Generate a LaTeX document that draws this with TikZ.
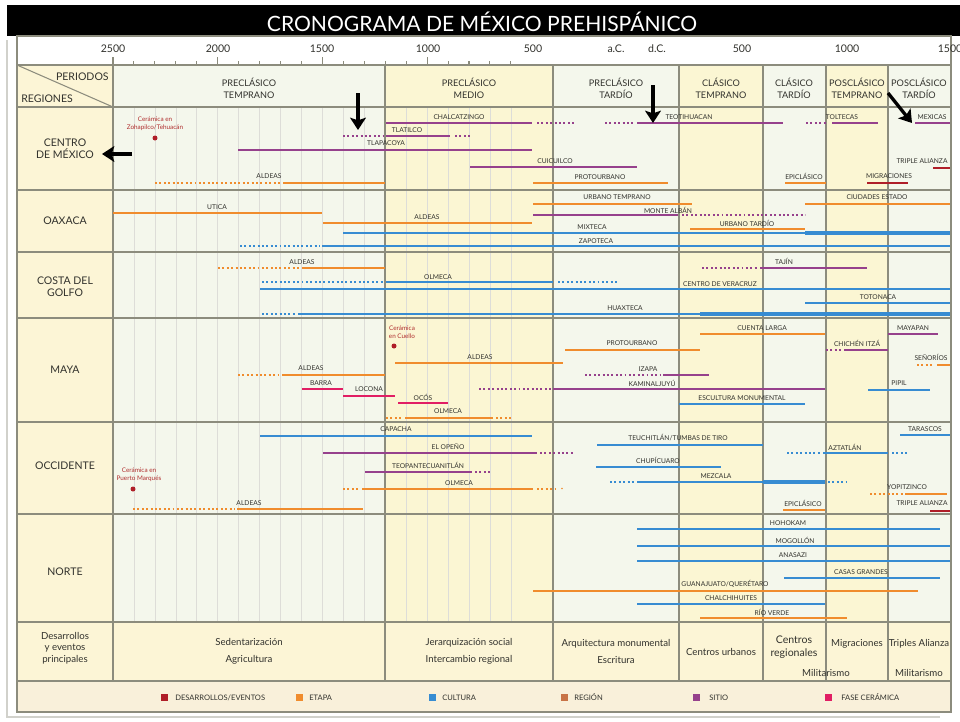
\documentclass[tikz,border=0pt]{standalone}
\usepackage{fontspec}
\setmainfont{Lato}
\usepackage{tikz}
\usetikzlibrary{arrows.meta}
\definecolor{desarrollo}{RGB}{175,30,40}
\definecolor{etapa}{RGB}{240,140,45}
\definecolor{cultura}{RGB}{55,140,210}
\definecolor{region}{RGB}{200,115,70}
\definecolor{sitio}{RGB}{150,65,140}
\definecolor{ceramica}{RGB}{225,30,100}
\definecolor{rojotxt}{RGB}{175,45,45}
\definecolor{fondoA}{RGB}{244,247,236}
\definecolor{fondoB}{RGB}{251,246,211}
\definecolor{fondoC}{RGB}{252,245,214}
\definecolor{fondoD}{RGB}{249,240,218}
\definecolor{tinta}{RGB}{50,50,45}
\definecolor{raya}{RGB}{140,140,125}

\begin{document}
\begin{tikzpicture}[x=0.02cm,y=-0.02cm,>=Stealth,
  titulo/.style={font=\fontsize{12}{14}\selectfont,text=white,inner sep=0pt},
  num/.style={font=\fontsize{6}{7}\selectfont,text=tinta,inner sep=0pt},
  etq/.style={font=\fontsize{3.8}{4.4}\selectfont,text=tinta,inner sep=0pt},
  rojo/.style={font=\fontsize{3.6}{4.6}\selectfont,text=rojotxt,align=center,inner sep=0pt},
  per/.style={font=\fontsize{5.2}{7}\selectfont,text=tinta,align=center,inner sep=0pt},
  reg/.style={font=\fontsize{6}{7}\selectfont,text=tinta,align=center,inner sep=0pt},
  des/.style={font=\fontsize{5.5}{9.5}\selectfont,text=tinta,align=center,inner sep=0pt},
  ley/.style={font=\fontsize{4.3}{5}\selectfont,text=tinta,anchor=west,inner sep=0pt},
  barra/.style={line width=1.1pt},
  punt/.style={line width=1.1pt,dash pattern=on 1.1pt off 1.4pt},
  gruesa/.style={line width=2.2pt},
  rejilla/.style={draw=raya!30,line width=0.3pt},
  linea/.style={draw=raya,line width=0.6pt},
  flecha/.style={line width=1.9pt,-{Stealth[length=7pt,width=9pt,inset=1.5pt]}}]
  \useasboundingbox (0,0) rectangle (960,721);
  \fill[white] (0,0) rectangle (960,721);
  \fill[black] (7,5) rectangle (960,36);
  \node[titulo] (titulo) at (482,22) {CRONOGRAMA DE MÉXICO PREHISPÁNICO};

  \fill[fondoC] (17,65) rectangle (113,681);
  \fill[fondoA] (113,65) rectangle (385,622);
  \fill[fondoB] (385,65) rectangle (553,622);
  \fill[fondoA] (553,65) rectangle (679,622);
  \fill[fondoB] (679,65) rectangle (763,622);
  \fill[fondoA] (763,65) rectangle (826,622);
  \fill[fondoB] (826,65) rectangle (888,622);
  \fill[fondoA] (888,65) rectangle (951,622);
  \fill[fondoC] (113,622) rectangle (951,681);
  \fill[fondoD] (17,681) rectangle (951,712);

  \foreach \k in {1,...,19}
    \draw[rejilla] ({113+20.94*\k},107) -- ({113+20.94*\k},622);
  \foreach \k in {0,...,19}
    \draw[linea] ({113+20.94*\k},61) -- ({113+20.94*\k},65);
  \foreach \k in {0,5,10,15}
    \draw[linea] ({113+20.94*\k},57) -- ({113+20.94*\k},65);
  \foreach \yy in {65,107,190,252,318,422,514,622,681}
    \draw[linea] (17,\yy) -- (951,\yy);
  \foreach \xx in {113,385,553,679,763,826,888}
    \draw[linea] (\xx,65) -- (\xx,681);
  \draw[linea] (17,65) -- (113,107);
  \draw[linea] (17,36) rectangle (951,712);
  \draw[raya!40,line width=1pt] (7,40) -- (7,717) -- (940,717);

  \node[num] (n2500) at (113,49) {2500};
  \node[num] (n2000) at (218,49) {2000};
  \node[num] (n1500) at (322,49) {1500};
  \node[num] (n1000) at (428,49) {1000};
  \node[num] (n500) at (533,49) {500};
  \node[num] (nac) at (616,49) {a.C.};
  \node[num] (ndc) at (657,49) {d.C.};
  \node[num] (m500) at (742,49) {500};
  \node[num] (m1000) at (847,49) {1000};
  \node[num] (m1500) at (950,49) {1500};

  \node[reg,anchor=east] (periodos) at (109,77) {PERIODOS};
  \node[reg,anchor=west] (regiones) at (21,99) {REGIONES};
  \node[per] (pTemp) at (249,88) {PRECLÁSICO\\TEMPRANO};
  \node[per] (pMed) at (469,88) {PRECLÁSICO\\MEDIO};
  \node[per] (pTard) at (616,88) {PRECLÁSICO\\TARDÍO};
  \node[per] (cTemp) at (721,88) {CLÁSICO\\TEMPRANO};
  \node[per] (cTard) at (794,88) {CLÁSICO\\TARDÍO};
  \node[per] (psTemp) at (857,88) {POSCLÁSICO\\TEMPRANO};
  \node[per] (psTard) at (919,88) {POSCLÁSICO\\TARDÍO};

  \node[reg] (centro) at (65,149) {CENTRO\\DE MÉXICO};
  \node[reg] (oaxaca) at (65,221) {OAXACA};
  \node[reg] (golfo) at (65,287) {COSTA DEL\\GOLFO};
  \node[reg] (maya) at (65,370) {MAYA};
  \node[reg] (occidente) at (65,466) {OCCIDENTE};
  \node[reg] (norte) at (65,572) {NORTE};

  \node[rojo] (cerZoh) at (155,123.5) {Cerámica en\\Zohapilco/Tehuacán};
  \fill[desarrollo] (155,138) circle (2.5);
  \draw[barra,sitio] (386,123) -- (532,123);
  \draw[punt,sitio] (537,123) -- (576,123);
  \node[etq] (chalcatzingo) at (459,117) {CHALCATZINGO};
  \draw[punt,sitio] (343,136) -- (384,136);
  \draw[barra,sitio] (386,136) -- (450,136);
  \draw[punt,sitio] (455,136) -- (470,136);
  \node[etq] (tlatilco) at (407,130) {TLATILCO};
  \draw[barra,sitio] (238,150) -- (532,150);
  \node[etq] (tlapacoya) at (386,143) {TLAPACOYA};
  \draw[barra,sitio] (470,167) -- (637,167);
  \node[etq] (cuicuilco) at (555,161) {CUICUILCO};
  \draw[barra,etapa] (533,183) -- (668,183);
  \node[etq] (protourbanoCM) at (600,177) {PROTOURBANO};
  \draw[punt,etapa] (155,183) -- (281,183);
  \draw[barra,etapa] (283,183) -- (385,183);
  \node[etq] (aldeasCM) at (269,176) {ALDEAS};
  \draw[punt,sitio] (605,123) -- (635,123);
  \draw[barra,sitio] (637,123) -- (783,123);
  \node[etq] (teotihuacan) at (689,117) {TEOTIHUACAN};
  \draw[punt,sitio] (806,123) -- (826,123);
  \draw[barra,sitio] (832,123) -- (878,123);
  \node[etq] (toltecas) at (842,117) {TOLTECAS};
  \draw[barra,sitio] (915,123) -- (950,123);
  \node[etq] (mexicas) at (932,117) {MEXICAS};
  \draw[barra,desarrollo] (933,168) -- (950,168);
  \node[etq] (alianzaCM) at (922,161) {TRIPLE ALIANZA};
  \draw[barra,etapa] (785,183) -- (826,183);
  \node[etq] (epiclasicoCM) at (804,176) {EPICLÁSICO};
  \draw[barra,desarrollo] (867,183) -- (908,183);
  \node[etq] (migraciones) at (889,176) {MIGRACIONES};

  \draw[barra,etapa] (113,213) -- (322,213);
  \node[etq] (utica) at (217,207) {UTICA};
  \draw[barra,etapa] (323,223) -- (532,223);
  \node[etq] (aldeasOax) at (427,217) {ALDEAS};
  \draw[barra,etapa] (533,204) -- (692,204);
  \node[etq] (urbTemp) at (617,197) {URBANO TEMPRANO};
  \draw[barra,etapa] (805,204) -- (950,204);
  \node[etq] (ciudades) at (877,197) {CIUDADES ESTADO};
  \draw[barra,sitio] (533,215) -- (678,215);
  \draw[punt,sitio] (682,215) -- (805,215);
  \node[etq] (montealban) at (668,210) {MONTE ALBÁN};
  \draw[barra,etapa] (690,229) -- (805,229);
  \node[etq] (urbTard) at (747,223) {URBANO TARDÍO};
  \draw[barra,cultura] (343,233) -- (805,233);
  \draw[gruesa,cultura] (805,233) -- (950,233);
  \node[etq] (mixteca) at (592,227) {MIXTECA};
  \draw[punt,cultura] (240,246) -- (320,246);
  \draw[barra,cultura] (322,246) -- (950,246);
  \node[etq] (zapoteca) at (596,241) {ZAPOTECA};

  \draw[punt,etapa] (218,268) -- (300,268);
  \draw[barra,etapa] (302,268) -- (385,268);
  \node[etq] (aldeasGolfo) at (302,262) {ALDEAS};
  \draw[punt,cultura] (262,282) -- (383,282);
  \draw[barra,cultura] (386,282) -- (553,282);
  \draw[punt,cultura] (558,282) -- (617,282);
  \node[etq] (olmecaGolfo) at (438,277) {OLMECA};
  \draw[barra,cultura] (260,289) -- (950,289);
  \node[etq] (veracruz) at (720,284) {CENTRO DE VERACRUZ};
  \draw[punt,sitio] (702,268) -- (758,268);
  \draw[barra,sitio] (760,268) -- (867,268);
  \node[etq] (tajin) at (784,261) {TAJÍN};
  \draw[barra,cultura] (805,303) -- (950,303);
  \node[etq] (totonaca) at (878,297) {TOTONACA};
  \draw[punt,cultura] (262,314) -- (296,314);
  \draw[barra,cultura] (298,314) -- (700,314);
  \draw[gruesa,cultura] (700,314) -- (950,314);
  \node[etq] (huaxteca) at (625,308) {HUAXTECA};

  \node[rojo] (cerCuello) at (402,332.5) {Cerámica\\en Cuello};
  \fill[desarrollo] (394,346) circle (2.5);
  \draw[barra,etapa] (395,363) -- (563,363);
  \node[etq] (aldeasMaya) at (480,357) {ALDEAS};
  \draw[barra,etapa] (565,350) -- (700,350);
  \node[etq] (protourbanoMaya) at (632,343) {PROTOURBANO};
  \draw[barra,etapa] (700,334) -- (825,334);
  \node[etq] (cuenta) at (762,328) {CUENTA LARGA};
  \draw[barra,sitio] (888,334) -- (938,334);
  \node[etq] (mayapan) at (913,328) {MAYAPAN};
  \draw[punt,sitio] (826,350) -- (841,350);
  \draw[barra,sitio] (844,350) -- (888,350);
  \node[etq] (chichen) at (857,343) {CHICHÉN ITZÁ};
  \draw[punt,etapa] (917,365) -- (934,365);
  \draw[barra,etapa] (937,365) -- (950,365);
  \node[etq] (senorios) at (931,357) {SEÑORÍOS};
  \draw[punt,etapa] (238,375) -- (280,375);
  \draw[barra,etapa] (282,375) -- (385,375);
  \node[etq] (aldeasMaya2) at (311,368) {ALDEAS};
  \draw[barra,ceramica] (302,389) -- (343,389);
  \node[etq] (barraF) at (321,383) {BARRA};
  \draw[barra,ceramica] (343,396) -- (395,396);
  \node[etq] (locona) at (369,389) {LOCONA};
  \draw[barra,ceramica] (398,403) -- (448,403);
  \node[etq] (ocos) at (423,397) {OCÓS};
  \draw[punt,etapa] (386,418) -- (403,418);
  \draw[barra,etapa] (405,418) -- (493,418);
  \draw[punt,etapa] (496,418) -- (512,418);
  \node[etq] (olmecaMaya) at (448,411) {OLMECA};
  \draw[punt,sitio] (585,375) -- (660,375);
  \draw[barra,sitio] (663,375) -- (709,375);
  \node[etq] (izapa) at (648,369) {IZAPA};
  \draw[punt,sitio] (479,389) -- (551,389);
  \draw[barra,sitio] (553,389) -- (825,389);
  \node[etq] (kaminaljuyu) at (652,383) {KAMINALJUYÚ};
  \draw[barra,cultura] (679,404) -- (805,404);
  \node[etq] (escultura) at (742,398) {ESCULTURA MONUMENTAL};
  \draw[barra,cultura] (868,390) -- (930,390);
  \node[etq] (pipil) at (899,383) {PIPIL};

  \node[rojo] (cerPuerto) at (139,475) {Cerámica en\\Puerto Marqués};
  \fill[desarrollo] (133,489) circle (2.5);
  \draw[barra,cultura] (260,436) -- (532,436);
  \node[etq] (capacha) at (396,429) {CAPACHA};
  \draw[barra,sitio] (323,453) -- (537,453);
  \draw[punt,sitio] (540,453) -- (573,453);
  \node[etq] (openo) at (448,447) {EL OPEÑO};
  \draw[barra,sitio] (365,472) -- (472,472);
  \draw[punt,sitio] (475,472) -- (492,472);
  \node[etq] (teopantecuanitlan) at (428,465) {TEOPANTECUANITLÁN};
  \draw[punt,etapa] (343,489) -- (360,489);
  \draw[barra,etapa] (362,489) -- (533,489);
  \draw[punt,etapa] (537,489) -- (556,489);
  \fill[etapa] (562,488.5) circle (0.9);
  \node[etq] (olmecaOcc) at (459,483) {OLMECA};
  \draw[punt,etapa] (133,509) -- (235,509);
  \draw[barra,etapa] (237,509) -- (363,509);
  \node[etq] (aldeasOcc) at (249,503) {ALDEAS};
  \draw[barra,cultura] (597,445) -- (763,445);
  \node[etq] (teuchitlan) at (678,438) {TEUCHITLÁN/TUMBAS DE TIRO};
  \draw[barra,cultura] (596,467) -- (721,467);
  \node[etq] (chupicuaro) at (658,460) {CHUPÍCUARO};
  \draw[punt,cultura] (610,482) -- (635,482);
  \draw[barra,cultura] (637,482) -- (763,482);
  \draw[gruesa,cultura] (763,482) -- (825,482);
  \draw[punt,cultura] (828,482) -- (847,482);
  \node[etq] (mezcala) at (716,476) {MEZCALA};
  \draw[punt,cultura] (787,453) -- (821,453);
  \draw[barra,cultura] (823,453) -- (888,453);
  \draw[punt,cultura] (892,453) -- (907,453);
  \node[etq] (aztatlan) at (845,447) {AZTATLÁN};
  \draw[barra,cultura] (900,435) -- (950,435);
  \node[etq] (tarascos) at (925,429) {TARASCOS};
  \draw[punt,etapa] (870,494) -- (903,494);
  \draw[barra,etapa] (905,494) -- (947,494);
  \node[etq] (yopitzinco) at (907,487) {YOPITZINCO};
  \draw[barra,etapa] (783,510) -- (825,510);
  \node[etq] (epiclasicoOcc) at (803,503) {EPICLÁSICO};
  \draw[barra,desarrollo] (930,511) -- (950,511);
  \node[etq] (alianzaOcc) at (922,503) {TRIPLE ALIANZA};

  \draw[barra,cultura] (637,529) -- (940,529);
  \node[etq] (hohokam) at (788,523) {HOHOKAM};
  \draw[barra,cultura] (637,546) -- (950,546);
  \node[etq] (mogollon) at (795,540) {MOGOLLÓN};
  \draw[barra,cultura] (637,561) -- (950,561);
  \node[etq] (anasazi) at (793,555) {ANASAZI};
  \draw[barra,cultura] (784,578) -- (940,578);
  \node[etq] (casas) at (861,572) {CASAS GRANDES};
  \draw[barra,etapa] (533,591) -- (918,591);
  \node[etq] (guanajuato) at (725,584) {GUANAJUATO/QUERÉTARO};
  \draw[barra,cultura] (637,604) -- (825,604);
  \node[etq] (chalchihuites) at (731,598) {CHALCHIHUITES};
  \draw[barra,etapa] (700,618) -- (847,618);
  \node[etq] (rioverde) at (772,612) {RÍO VERDE};

  \coordinate (fA1) at (132,154); \coordinate (fA2) at (102,154);
  \coordinate (fB1) at (358,93); \coordinate (fB2) at (358,130);
  \coordinate (fC1) at (653,85); \coordinate (fC2) at (653,123);
  \coordinate (fD1) at (888,93); \coordinate (fD2) at (912,123);
  \draw[flecha] (fA1) -- (fA2);
  \draw[flecha] (fB1) -- (fB2);
  \draw[flecha] (fC1) -- (fC2);
  \draw[flecha] (fD1) -- (fD2);

  \node[des] (desarrollos) at (65,648) {Desarrollos\\[-3pt]y eventos\\[-3pt]principales};
  \node[des] (sedent) at (249,651.5) {Sedentarización\\Agricultura};
  \node[des] (jerarq) at (469,651.5) {Jerarquización social\\Intercambio regional};
  \node[des] (arquit) at (616,651.5) {Arquitectura monumental\\Escritura};
  \node[des] (urbanos) at (721,652) {Centros urbanos};
  \node[des,font=\fontsize{6}{7}\selectfont] (regionales) at (794,647) {Centros\\regionales};
  \node[des] (migr) at (857,644) {Migraciones};
  \node[des] (triples) at (919,644) {Triples Alianza};
  \node[des] (milit1) at (826,673) {Militarismo};
  \node[des] (milit2) at (919,673) {Militarismo};

  \fill[desarrollo] (161,694) rectangle (168,701);
  \node[ley] (leyDes) at (175,697.5) {DESARROLLOS/EVENTOS};
  \fill[etapa] (296,694) rectangle (303,701);
  \node[ley] (leyEta) at (309,697.5) {ETAPA};
  \fill[cultura] (429,694) rectangle (436,701);
  \node[ley] (leyCul) at (442,697.5) {CULTURA};
  \fill[region] (561,694) rectangle (568,701);
  \node[ley] (leyReg) at (574,697.5) {REGIÓN};
  \fill[sitio] (693,694) rectangle (700,701);
  \node[ley] (leySit) at (709,697.5) {SITIO};
  \fill[ceramica] (825,694) rectangle (832,701);
  \node[ley] (leyCer) at (841,697.5) {FASE CERÁMICA};
\end{tikzpicture}
\end{document}
